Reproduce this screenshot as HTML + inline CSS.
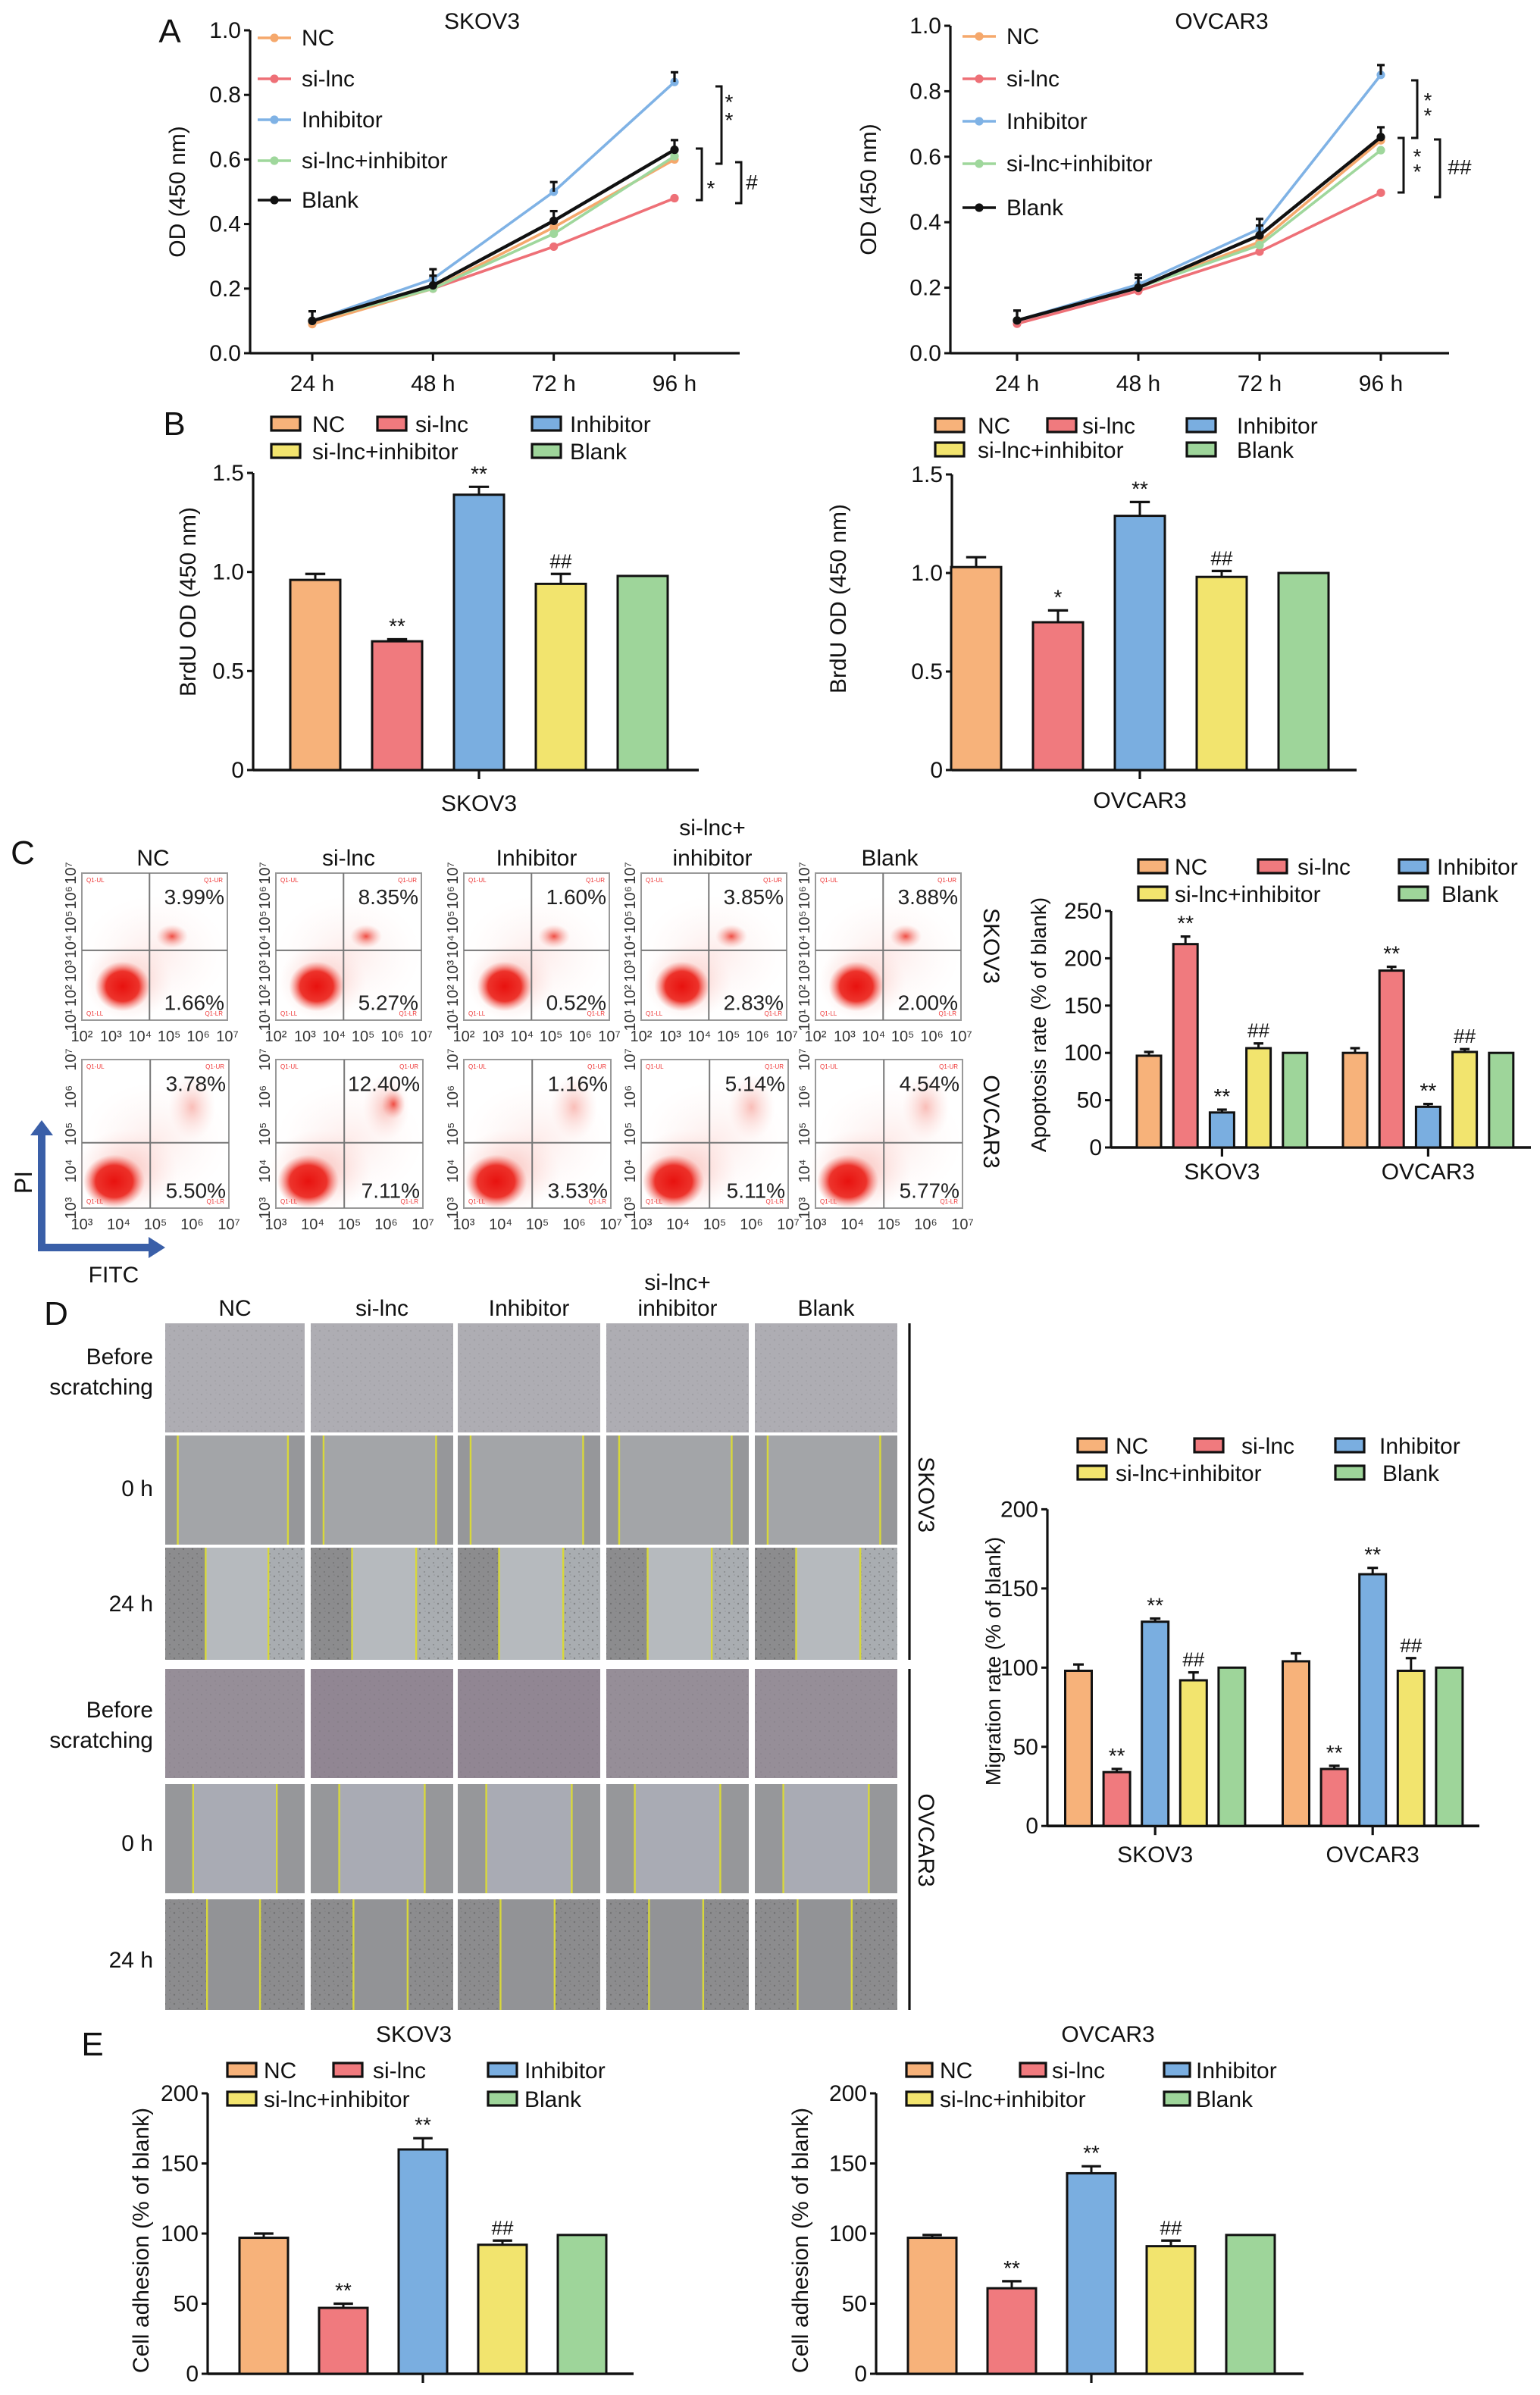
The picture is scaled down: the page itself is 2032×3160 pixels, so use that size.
<!DOCTYPE html>
<html><head><meta charset="utf-8">
<style>
html,body{margin:0;padding:0;background:#fff;}
svg{display:block;font-family:"Liberation Sans",Arial,sans-serif;}
</style></head>
<body>
<svg id="fig" xmlns="http://www.w3.org/2000/svg" width="2032" height="3160" viewBox="0 0 1016 1580" preserveAspectRatio="none">
<defs>
<radialGradient id="blob"><stop offset="0" stop-color="#e8120f" stop-opacity="1"/><stop offset="0.6" stop-color="#ec2a22" stop-opacity="0.95"/><stop offset="1" stop-color="#f47a70" stop-opacity="0"/></radialGradient>
<radialGradient id="blob2"><stop offset="0" stop-color="#ee3b30" stop-opacity="0.9"/><stop offset="1" stop-color="#f6a099" stop-opacity="0"/></radialGradient>
<radialGradient id="halo"><stop offset="0" stop-color="#f5938a" stop-opacity="0.6"/><stop offset="1" stop-color="#fbd0cb" stop-opacity="0"/></radialGradient>
<pattern id="tex" width="6" height="6" patternUnits="userSpaceOnUse"><rect width="6" height="6" fill="none"/><circle cx="1" cy="2" r="0.6" fill="#555" opacity="0.45"/><circle cx="4" cy="5" r="0.5" fill="#444" opacity="0.35"/><circle cx="4.5" cy="1" r="0.4" fill="#666" opacity="0.3"/></pattern>
</defs>
<g id="root"></g>
</svg>
<script>
// ---------- data ----------
const groups = ["NC","si-lnc","Inhibitor","si-lnc+inhibitor","Blank"];
const timeLabels = ["24 h","48 h","72 h","96 h"];
// Panel A: CCK-8 OD values
const aSkovNC   = [0.09,0.20,0.39,0.60];
const aSkovSi   = [0.10,0.20,0.33,0.48];
const aSkovInh  = [0.10,0.23,0.50,0.84];
const aSkovSiInh= [0.10,0.20,0.37,0.61];
const aSkovBlank= [0.10,0.21,0.41,0.63];
const aOvNC   = [0.10,0.20,0.34,0.65];
const aOvSi   = [0.09,0.19,0.31,0.49];
const aOvInh  = [0.10,0.21,0.38,0.85];
const aOvSiInh= [0.10,0.20,0.33,0.62];
const aOvBlank= [0.10,0.20,0.36,0.66];
const aTicks = [0,0.2,0.4,0.6,0.8,1.0];
const aTickLabels = ["0.0","0.2","0.4","0.6","0.8","1.0"];
// Panel B: BrdU
const bSkov = [0.96,0.65,1.39,0.94,0.98];
const bSkovErr = [0.03,0.01,0.04,0.05,0];
const bSkovSig = ["","**","**","##",""];
const bOv = [1.03,0.75,1.29,0.98,1.00];
const bOvErr = [0.05,0.06,0.07,0.03,0];
const bOvSig = ["","*","**","##",""];
const bTicks = [0,0.5,1.0,1.5];
const bTickLabels = ["0","0.5","1.0","1.5"];
// Panel C: apoptosis
const cSkov = [97,215,37,105,100];
const cSkovErr = [4,8,3,5,0];
const cSkovSig = ["","**","**","##",""];
const cOv = [100,187,43,101,100];
const cOvErr = [5,4,3,3,0];
const cOvSig = ["","**","**","##",""];
const cTicks = [0,50,100,150,200,250];
// Flow cytometry percentages
const flowSkovUR = ["3.99%","8.35%","1.60%","3.85%","3.88%"];
const flowSkovLR = ["1.66%","5.27%","0.52%","2.83%","2.00%"];
const flowOvUR = ["3.78%","12.40%","1.16%","5.14%","4.54%"];
const flowOvLR = ["5.50%","7.11%","3.53%","5.11%","5.77%"];
// Panel D: migration
const dSkov = [98,34,129,92,100];
const dSkovErr = [4,2,2,5,0];
const dSkovSig = ["","**","**","##",""];
const dOv = [104,36,159,98,100];
const dOvErr = [5,2,4,8,0];
const dOvSig = ["","**","**","##",""];
const dTicks = [0,50,100,150,200];
// Panel E: adhesion
const eSkov = [97,47,160,92,99];
const eSkovErr = [3,3,8,3,0];
const eSkovSig = ["","**","**","##",""];
const eOv = [97,61,143,91,99];
const eOvErr = [2,5,5,4,0];
const eOvSig = ["","**","**","##",""];
const eTicks = [0,50,100,150,200];

const fillCol = ["#f7b27a","#f07a7e","#7aaee0","#f2e46e","#9ed59a"];
const lineCol = ["#f5a86c","#ee7077","#7fb2e5","#9fd79c","#111111"];

// ---------- helpers ----------
const NS="http://www.w3.org/2000/svg";
const root=document.getElementById('root');
function mk(tag,attrs,parent){const e=document.createElementNS(NS,tag);for(const k in attrs)e.setAttribute(k,attrs[k]);(parent||root).appendChild(e);return e;}
function txt(s,x,y,size,anchor,parent,extra){const t=mk('text',Object.assign({x:x,y:y,'font-size':size,'text-anchor':anchor||'start',fill:'#111'},extra||{}),parent);t.textContent=s;return t;}
function grp(name,parent){const g=mk('g',{},parent);return g;}
function lin(x1,y1,x2,y2,w,parent,col){return mk('line',{x1:x1,y1:y1,x2:x2,y2:y2,stroke:col||'#111','stroke-width':w||1.5},parent);}

// ---------- line chart ----------
function lineChart(name,cfg,series,title){
  const g=grp(name);
  const ys=v=>cfg.y0+(cfg.y1-cfg.y0)*v/1.0;
  const xs=i=>cfg.xt0+(cfg.xt1-cfg.xt0)*i/(timeLabels.length-1);
  const ax=grp(name+'-y-axis',g);
  lin(cfg.ax,cfg.y1,cfg.ax,cfg.y0,1.6,ax);
  aTicks.forEach((t,i)=>{lin(cfg.ax-4,ys(t),cfg.ax,ys(t),1.5,ax);const tl=txt(aTickLabels[i],cfg.ax-6,ys(t)+5,15,'end',ax);});
  const xa=grp(name+'-x-axis',g);
  lin(cfg.ax,cfg.y0,cfg.axEnd,cfg.y0,1.6,xa);
  timeLabels.forEach((t,i)=>{lin(xs(i),cfg.y0,xs(i),cfg.y0+5,1.5,xa);const tl=txt(t,xs(i),cfg.y0+25,15,'middle',xa);});
  const yt=txt('OD (450 nm)',0,0,15,'middle',g,{transform:`translate(${cfg.ytx},${(cfg.y0+cfg.y1)/2}) rotate(-90)`});
  
  const tt=txt(title,cfg.titleX,19,15,'middle',g);
  
  series.forEach((s,k)=>{
    const sg=grp('series-'+groups[k],g);
    const pts=s.map((v,i)=>xs(i)+','+ys(v)).join(' ');
    const pl=mk('polyline',{points:pts,fill:'none',stroke:lineCol[k],'stroke-width':k==4?2.2:1.8},sg);
    
    
    s.forEach((v,i)=>{const c=mk('circle',{cx:xs(i),cy:ys(v),r:2.8,fill:lineCol[k]},sg);
      
      
      if(k==2||k==4){const e=0.03;lin(xs(i),ys(v),xs(i),ys(v+e),1.6,sg);lin(xs(i)-2.5,ys(v+e),xs(i)+2.5,ys(v+e),1.6,sg);}
    });
  });
  const lg=grp(name+'-legend',g);
  groups.forEach((n,k)=>{const y=cfg.legY[k];const le=grp('legend-entry',lg);lin(cfg.legX,y,cfg.legX+22,y,1.8,le,lineCol[k]);mk('circle',{cx:cfg.legX+11,cy:y,r:2.8,fill:lineCol[k]},le);txt(n,cfg.legX+29,y+5,15,'start',le);});
  return g;
}
lineChart('panel-a-skov3-chart',{ax:165,axEnd:488,y0:233,y1:20,xt0:206,xt1:445,ytx:122,titleX:318,legX:170,legY:[25,52,79,106,132]},
  [aSkovNC,aSkovSi,aSkovInh,aSkovSiInh,aSkovBlank],'SKOV3');
lineChart('panel-a-ovcar3-chart',{ax:627,axEnd:956,y0:233,y1:17,xt0:671,xt1:911,ytx:578,titleX:806,legX:635,legY:[24,52,80,108,137]},
  [aOvNC,aOvSi,aOvInh,aOvSiInh,aOvBlank],'OVCAR3');
// significance brackets A
function bracket(x,y1,y2,w,parent){mk('path',{d:`M${x-w},${y1} H${x} V${y2} H${x-w}`,fill:'none',stroke:'#111','stroke-width':1.5},parent);}
const sa=grp('panel-a-significance');
bracket(476,57,108,4,sa);txt('*',481,72,14,'middle',sa);txt('*',481,84,14,'middle',sa);
bracket(463,98,132,4,sa);txt('*',469,129,14,'middle',sa);
bracket(489,107,134,4,sa);txt('#',496,125,14,'middle',sa);
bracket(935,53,91,4,sa);txt('*',942,71,14,'middle',sa);txt('*',942,81,14,'middle',sa);
bracket(926,91,127,4,sa);txt('*',935,108,14,'middle',sa);txt('*',935,118,14,'middle',sa);
bracket(950,92,130,4,sa);txt('##',963,115,14,'middle',sa);

// ---------- bar chart ----------
function barChart(name,cfg,sets){
  const g=grp(name);
  const ys=v=>cfg.y0-(cfg.y0-cfg.y1)*v/cfg.max;
  const ya=grp(name+'-y-axis',g);
  lin(cfg.ax,cfg.y1,cfg.ax,cfg.y0,1.6,ya);
  cfg.ticks.forEach((t,i)=>{lin(cfg.ax-4,ys(t),cfg.ax,ys(t),1.5,ya);const tl=txt(cfg.tickLabels?cfg.tickLabels[i]:String(t),cfg.ax-6,ys(t)+5,cfg.fs||15,'end',ya);});
  const xa=grp(name+'-x-axis',g);
  lin(cfg.ax,cfg.y0,cfg.axEnd,cfg.y0,1.8,xa);
  sets.forEach((s,si)=>{
    const sg=grp('group-'+s.label,g);
    s.vals.forEach((v,i)=>{
      const cx=s.start+i*cfg.step;
      const r=mk('rect',{x:cx-cfg.bw/2,y:ys(v),width:cfg.bw,height:cfg.y0-ys(v),fill:fillCol[i],stroke:'#111','stroke-width':1.5},sg);
      
      
      const e=s.err[i];
      if(e>0){lin(cx,ys(v),cx,ys(v+e),1.5,sg);lin(cx-cfg.bw*0.2,ys(v+e),cx+cfg.bw*0.2,ys(v+e),1.6,sg);}
      if(s.sig[i]){const st=txt(s.sig[i],cx,ys(v+e)-4,s.sig[i][0]=='#'?13:14,'middle',sg);}
    });
    const mid=s.start+2*cfg.step;
    lin(mid,cfg.y0,mid,cfg.y0+6,1.6,xa);
    if(s.label&&cfg.showX){const xl=txt(s.label,mid,cfg.y0+cfg.xlOff,15,'middle',xa);}
  });
  const yt=txt(cfg.ytitle,0,0,cfg.ytfs||15,'middle',g,{transform:`translate(${cfg.ytx},${cfg.yty}) rotate(-90)`});
  
  const lg=grp(name+'-legend',g);
  cfg.leg.forEach((p,k)=>{const le=grp('legend-entry',lg);
    mk('rect',{x:p[0],y:p[1]-5,width:cfg.sw||19,height:9,fill:fillCol[k],stroke:'#111','stroke-width':1.6},le);
    txt(groups[k],p[2],p[1]+5,cfg.lfs||15,'start',le);});
  return g;
}
barChart('panel-b-skov3-chart',{ax:167,axEnd:461,y0:508,y1:312,max:1.5,ticks:bTicks,tickLabels:bTickLabels,step:54,bw:33,ytitle:'BrdU OD (450 nm)',ytx:129,yty:397,showX:true,xlOff:27,
  leg:[[179,280,206],[249,280,274],[351,280,376],[179,298,206],[351,298,376]]},
  [{label:'SKOV3',start:208,vals:bSkov,err:bSkovErr,sig:bSkovSig}]);
barChart('panel-b-ovcar3-chart',{ax:628,axEnd:895,y0:508,y1:313,max:1.5,ticks:bTicks,tickLabels:bTickLabels,step:54,bw:33,ytitle:'BrdU OD (450 nm)',ytx:558,yty:395,showX:true,xlOff:25,
  leg:[[617,281,645],[691,281,714],[783,281,816],[617,297,645],[783,297,816]]},
  [{label:'OVCAR3',start:644,vals:bOv,err:bOvErr,sig:bOvSig}]);
barChart('panel-c-apoptosis-chart',{ax:733,axEnd:1010,y0:757,y1:601,max:250,ticks:cTicks,step:24.1,bw:16,ytitle:'Apoptosis rate (% of blank)',ytfs:14,ytx:690,yty:676,showX:true,xlOff:21,
  leg:[[751,572,775],[830,572,856],[923,572,948],[751,590,775],[923,590,951]]},
  [{label:'SKOV3',start:758,vals:cSkov,err:cSkovErr,sig:cSkovSig},{label:'OVCAR3',start:894,vals:cOv,err:cOvErr,sig:cOvSig}]);
barChart('panel-d-migration-chart',{ax:691,axEnd:976,y0:1204.6,y1:995.7,max:200,ticks:dTicks,step:25.3,bw:17.5,ytitle:'Migration rate (% of blank)',ytfs:14,ytx:660,yty:1096,showX:true,xlOff:24,
  leg:[[711,954,736],[788,954,819],[881,954,910],[711,972,736],[881,972,912]]},
  [{label:'SKOV3',start:711.5,vals:dSkov,err:dSkovErr,sig:dSkovSig},{label:'OVCAR3',start:855,vals:dOv,err:dOvErr,sig:dOvSig}]);
barChart('panel-e-skov3-chart',{ax:137,axEnd:418,y0:1566,y1:1381,max:200,ticks:eTicks,step:52.5,bw:32,ytitle:'Cell adhesion (% of blank)',ytx:98,yty:1478,showX:false,
  leg:[[150,1366,174],[220,1366,246],[322,1366,346],[150,1385,174],[322,1385,346]]},
  [{label:'SKOV3',start:174,vals:eSkov,err:eSkovErr,sig:eSkovSig}]);
barChart('panel-e-ovcar3-chart',{ax:578,axEnd:860,y0:1566,y1:1381,max:200,ticks:eTicks,step:52.5,bw:32,ytitle:'Cell adhesion (% of blank)',ytx:533,yty:1478,showX:false,sw:17,
  leg:[[598,1366,620],[673,1366,694],[768,1366,789],[598,1385,620],[768,1385,789]]},
  [{label:'OVCAR3',start:615,vals:eOv,err:eOvErr,sig:eOvSig}]);
const et=grp('panel-e-titles');
txt('SKOV3',273,1347,15,'middle',et);txt('OVCAR3',731,1347,15,'middle',et);

// ---------- panel labels ----------
const pl=grp('panel-labels');
[['A',112,28],['B',115,287],['C',15,570],['D',37,874],['E',61,1356]].forEach(p=>{const t=txt(p[0],p[1],p[2],22,'middle',pl);});

// ---------- panel C flow plots ----------
const flowX=[54,182,306,423,538];
const fg=grp('panel-c-flow-plots');
function flowBox(x,y,w,h,vFrac,hFrac,ur,lr,row,ci){
  const b=grp('flow-plot',fg);
  mk('rect',{x:x,y:y,width:w,height:h,fill:'#fff',stroke:'#999','stroke-width':1},b);
  mk('ellipse',{cx:x+w*0.5,cy:y+h*0.55,rx:w*0.5,ry:h*0.4,fill:'url(#halo)',opacity:0.3},b);
  if(row==0){
    mk('ellipse',{cx:x+w*0.32,cy:y+h*0.74,rx:w*0.3,ry:h*0.26,fill:'url(#halo)'},b);
    mk('ellipse',{cx:x+w*0.28,cy:y+h*0.77,rx:w*0.19,ry:h*0.17,fill:'url(#blob)'},b);
    mk('ellipse',{cx:x+w*0.62,cy:y+h*0.43,rx:w*0.11,ry:h*0.08,fill:'url(#blob2)'},b);
  } else {
    mk('ellipse',{cx:x+w*0.3,cy:y+h*0.75,rx:w*0.35,ry:h*0.28,fill:'url(#halo)'},b);
    mk('ellipse',{cx:x+w*0.22,cy:y+h*0.82,rx:w*0.21,ry:h*0.18,fill:'url(#blob)'},b);
    mk('ellipse',{cx:x+w*0.75,cy:y+h*0.32,rx:w*0.16,ry:h*0.22,fill:'url(#halo)'},b);
    if(ci==1)mk('ellipse',{cx:x+w*0.8,cy:y+h*0.3,rx:w*0.08,ry:h*0.1,fill:'url(#blob2)'},b);
  }
  lin(x+w*vFrac,y,x+w*vFrac,y+h,1,b,'#777');
  lin(x,y+h*hFrac,x+w,y+h*hFrac,1,b,'#777');
  txt('Q1-UL',x+3,y+6,4,'start',b,{fill:'#e33'});txt('Q1-UR',x+w-3,y+6,4,'end',b,{fill:'#e33'});
  txt('Q1-LL',x+3,y+h-3,4,'start',b,{fill:'#e33'});txt('Q1-LR',x+w-3,y+h-3,4,'end',b,{fill:'#e33'});
  txt(ur,x+w-2,y+h*0.15+6,14,'end',b,{fill:'#222'});
  txt(lr,x+w-2,y+h*0.88+5,14,'end',b,{fill:'#222'});
  const xl=row==0?['10²','10³','10⁴','10⁵','10⁶','10⁷']:['10³','10⁴','10⁵','10⁶','10⁷'];
  xl.forEach((s,i)=>txt(s,x+w*i/(xl.length-1),y+h+14,10,'middle',b,{fill:'#333'}));
  const yl=row==0?['10¹','10²','10³','10⁴','10⁵','10⁶','10⁷']:['10³','10⁴','10⁵','10⁶','10⁷'];
  yl.forEach((s,i)=>txt(s,0,0,10,'middle',b,{fill:'#333',transform:`translate(${x-4},${y+h-h*i/(yl.length-1)}) rotate(-90)`}));
}
flowX.forEach((x,i)=>{flowBox(x,576,96,97,0.465,0.525,flowSkovUR[i],flowSkovLR[i],0,i);flowBox(x,699,97,98,0.465,0.56,flowOvUR[i],flowOvLR[i],1,i);});
const fh=grp('panel-c-column-headers');
txt('NC',101,571,15,'middle',fh);txt('si-lnc',230,571,15,'middle',fh);txt('Inhibitor',354,571,15,'middle',fh);
txt('si-lnc+',470,551,15,'middle',fh);txt('inhibitor',470,571,15,'middle',fh);txt('Blank',587,571,15,'middle',fh);
txt('SKOV3',0,0,15,'middle',fh,{transform:'translate(649,624) rotate(90)'});
txt('OVCAR3',0,0,15,'middle',fh,{transform:'translate(649,740) rotate(90)'});
const ar=grp('pi-fitc-axes-arrows');
mk('path',{d:'M27.5,824 V746',stroke:'#3a5fa8','stroke-width':5,fill:'none'},ar);
mk('path',{d:'M20,749 L27.5,739 L35,749 Z',fill:'#3a5fa8'},ar);
mk('path',{d:'M25,823 H100',stroke:'#3a5fa8','stroke-width':5,fill:'none'},ar);
mk('path',{d:'M98,816 L109,823 L98,830 Z',fill:'#3a5fa8'},ar);
txt('PI',0,0,16,'middle',ar,{transform:'translate(21,780) rotate(-90)'});
txt('FITC',75,846,15,'middle',ar);

// ---------- panel D wound images ----------
const colX=[109,205,302,400,498];const colW=[92,94,94,94,94];
const rowY=[873,947,1021,1101,1177,1253];const rowH=[72,72,74,72,72,73];
const lineFr=[[0,0],[0.09,0.88],[0.29,0.74],[0,0],[0.2,0.8],[0.3,0.68]];
const dg=grp('panel-d-wound-images');
const rowBase=['#aeadb3','#a3a5a8','#b6babe','#968e98','#a9abb4','#929396'];
rowY.forEach((y,r)=>colX.forEach((x,c)=>{
  const cell=grp('wound-image',dg);
  let base=rowBase[r];
  if(r==3&&(c==1||c==2))base='#918693';
  mk('rect',{x:x,y:y,width:colW[c],height:rowH[r],fill:base},cell);
  const f=lineFr[r];
  if(f[1]>0){
    const l=x+colW[c]*f[0], rr=x+colW[c]*f[1];
    const edge=(r==2||r==5)?'#8c8c8e':'#96979a';
    mk('rect',{x:x,y:y,width:l-x,height:rowH[r],fill:edge},cell);
    mk('rect',{x:rr,y:y,width:x+colW[c]-rr,height:rowH[r],fill:(r==2)?'#a9adb1':edge},cell);
    if(r==2||r==5){mk('rect',{x:x,y:y,width:l-x,height:rowH[r],fill:'url(#tex)'},cell);mk('rect',{x:rr,y:y,width:x+colW[c]-rr,height:rowH[r],fill:'url(#tex)'},cell);}
    lin(l,y,l,y+rowH[r],1.2,cell,'#d8d83a');lin(rr,y,rr,y+rowH[r],1.2,cell,'#d8d83a');
  } else {
    mk('rect',{x:x,y:y,width:colW[c],height:rowH[r],fill:'url(#tex)',opacity:0.3},cell);
  }
}));
const dh=grp('panel-d-labels');
txt('NC',155,868,15,'middle',dh);txt('si-lnc',252,868,15,'middle',dh);txt('Inhibitor',349,868,15,'middle',dh);
txt('si-lnc+',447,851,15,'middle',dh);txt('inhibitor',447,868,15,'middle',dh);txt('Blank',545,868,15,'middle',dh);
txt('Before',101,900,15,'end',dh);txt('scratching',101,920,15,'end',dh);
txt('0 h',101,987,15,'end',dh);txt('24 h',101,1063,15,'end',dh);
txt('Before',101,1133,15,'end',dh);txt('scratching',101,1153,15,'end',dh);
txt('0 h',101,1221,15,'end',dh);txt('24 h',101,1298,15,'end',dh);
lin(600,873,600,1095,1.6,dh);lin(600,1101,600,1326,1.6,dh);
txt('SKOV3',0,0,15,'middle',dh,{transform:'translate(606,986) rotate(90)'});
txt('OVCAR3',0,0,15,'middle',dh,{transform:'translate(606,1214) rotate(90)'});
</script>
</body></html>
